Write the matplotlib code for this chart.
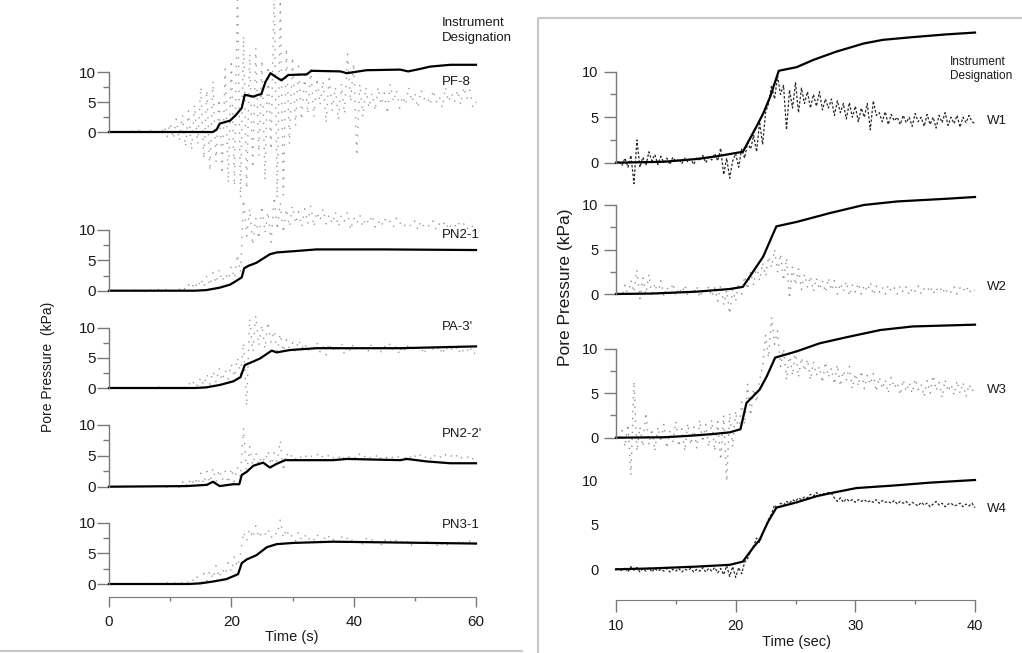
import numpy as np
import matplotlib
matplotlib.use("Agg")
import matplotlib.pyplot as plt
from matplotlib.lines import Line2D

plt.rcParams['font.family'] = ['Liberation Sans', 'DejaVu Sans']

# ---------------- DATA ----------------
# Left figure: time grid of the measured (dotted) records, 0-60 s every 0.5 s
left_time_start, left_time_stop, left_time_step = 0.0, 60.0, 0.5
# Right figure: time grid of the measured (dotted) records, 10-40 s every 0.25 s
right_time_start, right_time_stop, right_time_step = 10.0, 40.0, 0.25

left_names = ["PF-8", "PN2-1", "PA-3'", "PN2-2'", "PN3-1"]
right_names = ["W1", "W2", "W3", "W4"]

# measured records (dotted), left figure
pf8_meas = [0, 0.1, -0.1, 0.1, 0, -0.1, 0.2, -0.1,
            0.2, -0.2, 0.3, -0.3, 0.2, -0.2, 0.4, -0.3,
            0.6, -0.5, 1.0, -0.8, 1.5, -1.2, 2.2, -1.5,
            2.8, -2.5, 3.5, -3.0, 4.5, -2.0, 7.5, -4.5,
            7.0, -6.5, 8.5, -5.0, 5.5, -7.0, 10.5, -8.5,
            12.0, -9.0, 24.0, -11.0, 16.0, -9.5, 13.0, -6.0,
            14.0, -4.0, 12.0, -8.0, 11.0, -3.0, 24.0, -11.0,
            22.0, -10.5, 14.0, -2.0, 12.5, 1.0, 11.0, 2.0,
            9.5, 3.0, 10.5, 2.5, 9.0, 4.5, 8.5, 1.5,
            9.5, 3.5, 7.5, 2.0, 8.0, 3.0, 13.0, 5.0,
            11.5, -4.0, 8.0, 2.5, 7.5, 4.0, 6.5, 3.5,
            7.5, 4.5, 6.5, 3.0, 8.0, 5.0, 7.0, 4.0,
            6.0, 4.5, 7.5, 5.0, 6.5, 4.0, 7.0, 5.5,
            6.0, 4.5, 7.0, 5.0, 6.0, 4.0, 7.5, 5.0,
            6.5, 5.0, 7.0, 4.5, 7.5, 5.5, 7.0, 4.0,
            5.0]
pn21_meas = [0, 0, 0.1, 0, 0, 0.1, 0, 0,
             0.1, 0, 0.1, 0, 0.1, 0, 0.2, 0,
             0.2, 0, 0.3, 0.1, 0.4, 0, 0.5, 0.2,
             0.8, 0.1, 1.0, 0.3, 1.5, 0.4, 2.0, 0.6,
             2.5, 0.8, 3.0, 1.2, 3.5, 1.5, 2.8, 1.8,
             4.0, 2.0, 6.0, 3.0, 15.0, 9.0, 13.5, 7.5,
             12.0, 8.5, 14.0, 9.5, 13.0, 8.0, 15.5, 10.0,
             14.5, 9.5, 13.5, 10.5, 14.0, 11.0, 13.0, 10.5,
             13.5, 11.0, 14.0, 10.5, 13.0, 11.5, 13.5, 11.0,
             12.5, 11.0, 13.0, 10.5, 12.5, 11.5, 13.0, 10.0,
             12.0, 11.0, 12.5, 10.5, 12.0, 11.0, 12.5, 10.5,
             11.5, 10.5, 12.0, 11.0, 11.5, 10.5, 12.0, 11.0,
             11.5, 10.5, 11.0, 10.5, 11.5, 10.0, 11.5, 10.5,
             11.0, 10.5, 11.5, 10.0, 11.0, 10.5, 11.5, 10.0,
             11.0, 10.5, 11.5, 10.5, 11.0, 10.0, 11.0, 10.5,
             10.5]
pa3_meas = [0, 0, 0, 0.1, 0, 0, 0.1, 0,
            0, 0.1, 0, 0, 0.1, 0, 0.1, 0,
            0.2, 0, 0.3, 0, 0.2, -0.1, 0.4, 0,
            0.6, 0, 0.9, 0.2, 1.3, 0.3, 1.8, 0.4,
            2.3, 0.6, 2.8, 0.9, 3.3, 1.2, 3.0, 1.5,
            4.0, 1.8, 5.0, 2.2, 7.5, -3.0, 11.5, 6.0,
            12.0, 7.0, 10.5, 6.5, 11.0, 7.5, 9.5, 6.0,
            9.0, 6.0, 8.0, 6.5, 7.5, 6.0, 8.0, 6.5,
            7.5, 6.0, 7.0, 6.5, 7.5, 6.0, 7.0, 5.5,
            7.5, 6.0, 7.0, 6.5, 7.5, 5.5, 7.0, 6.0,
            7.5, 6.0, 7.0, 6.5, 7.0, 6.0, 7.5, 6.0,
            7.0, 6.0, 7.0, 6.5, 7.5, 6.0, 7.0, 5.5,
            7.0, 6.0, 7.5, 6.0, 7.0, 6.5, 7.0, 5.5,
            7.0, 6.0, 6.5, 6.0, 7.0, 5.5, 7.0, 6.0,
            6.5, 6.0, 7.0, 5.5, 6.5, 6.0, 7.0, 5.5,
            6.0]
pn22_meas = [0, 0, 0, 0, 0, 0.1, 0, 0,
             0, 0, 0.1, 0, 0, 0.1, 0, 0,
             0.1, 0, 0.2, -0.1, 0.3, 0, 0.5, -0.2,
             0.8, -0.1, 1.2, 0.2, 1.5, 0.3, 2.2, 0.4,
             2.5, 0.6, 3.0, 0.8, 2.8, 1.0, 2.5, 0.5,
             3.0, 0.8, 3.2, 1.5, 9.5, 2.0, 6.5, 3.5,
             5.5, 3.5, 5.0, 4.0, 5.8, 3.5, 5.5, 4.0,
             7.5, 2.5, 5.5, 4.5, 5.3, 4.5, 5.2, 4.6,
             5.2, 4.5, 5.0, 4.7, 5.3, 4.5, 5.0, 4.6,
             5.2, 4.5, 5.0, 4.6, 5.3, 4.4, 5.0, 4.6,
             5.0, 4.4, 5.3, 4.6, 5.1, 4.5, 5.0, 4.7,
             5.4, 4.5, 5.0, 4.6, 5.1, 4.5, 5.0, 4.7,
             5.0, 4.6, 5.2, 4.4, 5.0, 4.5, 5.3, 4.6,
             5.0, 4.4, 5.4, 4.6, 5.0, 4.5, 5.2, 4.6,
             5.0, 4.5, 5.3, 4.6, 5.0, 4.6, 5.2, 4.5,
             4.8]
pn31_meas = [0, 0, 0, 0, 0.1, 0, 0, 0,
             0, 0, 0.1, 0, 0, 0, 0.1, 0,
             0, 0.1, 0, 0.2, 0, 0.3, 0, 0.4,
             0.1, 0.6, 0.2, 0.9, 0.3, 1.3, -0.4, 1.7,
             0.5, 2.2, 0.8, 3.0, 1.0, 2.5, 1.5, 3.5,
             2.0, 4.5, 2.8, 5.0, 8.5, 7.0, 9.0, 7.5,
             9.5, 7.5, 8.5, 8.0, 9.0, 7.5, 8.5, 8.0,
             10.5, 7.5, 9.0, 7.5, 8.0, 7.0, 8.5, 7.2,
             8.0, 7.0, 7.8, 7.2, 8.2, 6.8, 7.8, 7.0,
             7.8, 7.0, 7.6, 6.8, 7.8, 7.0, 7.5, 6.8,
             7.5, 6.8, 7.2, 6.5, 7.5, 6.8, 7.2, 6.5,
             7.2, 6.4, 7.4, 6.6, 7.0, 6.5, 7.2, 6.6,
             7.0, 6.5, 7.2, 6.3, 7.0, 6.5, 7.0, 6.2,
             7.0, 6.5, 6.8, 6.0, 7.0, 6.4, 6.8, 6.2,
             6.8, 6.4, 7.0, 6.2, 6.8, 6.5, 7.0, 6.3,
             6.6]

# computed / predicted records (solid), left figure
pf8_pred_t = [0, 17.0, 17.6, 18.1, 19.8, 20.8, 21.7, 22.2, 23.6, 24.4, 24.9, 25.6, 26.4,
              27.1, 28.2, 29.3, 32.3, 33.1, 37.8, 38.9, 42.1, 47.6, 48.9, 50.8, 52.5, 55.8, 60]
pf8_pred_v = [0, 0, 0.4, 1.4, 1.9, 2.9, 4.0, 6.2, 5.9, 6.2, 6.3, 8.4, 9.8,
              9.3, 8.6, 9.5, 9.6, 10.2, 10.1, 9.8, 10.3, 10.4, 10.1, 10.5, 10.9, 11.2, 11.2]
pn21_pred_t = [0, 14.0, 15.9, 18.1, 19.8, 21.1, 21.7, 22.1, 22.8, 24.1, 25.2, 26.3, 27.4, 30.1, 33.9, 45.0, 60]
pn21_pred_v = [0, 0, 0.1, 0.5, 1.0, 1.8, 2.2, 3.7, 4.1, 4.6, 5.3, 6.0, 6.3, 6.5, 6.8, 6.8, 6.7]
pa3_pred_t = [0, 14.0, 15.9, 18.1, 20.3, 21.5, 22.2, 23.6, 24.7, 26.6, 27.4, 29.6, 33.9, 47.6, 60]
pa3_pred_v = [0, 0, 0.1, 0.5, 1.1, 1.8, 3.8, 4.4, 4.9, 6.2, 5.9, 6.3, 6.6, 6.6, 6.9]
pn22_pred_t = [0, 12.7, 16.0, 17.0, 18.1, 20.3, 21.3, 21.7, 22.5, 23.6, 25.2, 26.3, 27.4,
               28.8, 36.6, 38.9, 47.6, 48.7, 51.9, 55.8, 60]
pn22_pred_v = [0, 0.1, 0.3, 0.8, 0.1, 0.4, 0.4, 1.9, 2.4, 3.4, 3.9, 3.1, 3.7,
               4.3, 4.3, 4.5, 4.3, 4.5, 4.1, 3.8, 3.8]
pn31_pred_t = [0, 13.0, 14.9, 17.0, 19.2, 21.1, 21.7, 22.5, 24.1, 25.8, 27.4, 30.1, 36.6, 60]
pn31_pred_v = [0, 0, 0.1, 0.4, 0.8, 1.6, 3.4, 4.0, 4.7, 6.0, 6.5, 6.7, 6.9, 6.6]

# measured records, right figure
w1_meas = [0.0, 0.2, -0.3, 0.5, -0.5, 0.8, -2.3, 2.5,
           -0.5, 0.6, -0.3, 1.2, 0.2, 0.9, -0.2, 0.7,
           0.0, 0.5, -0.2, 0.6, 0.1, 0.4, -0.1, 0.5,
           0.1, 0.4, -0.2, 0.6, 0.2, 0.8, 0.0, 0.6,
           0.3, 1.0, 0.2, 1.6, -1.3, 0.5, -1.7, 0.2,
           1.0, -0.5, 1.5, 0.5, 2.2, 1.5, 3.0, 1.2,
           4.5, 2.0, 5.5, 6.5, 8.5, 7.0, 9.5, 7.5,
           8.5, 3.6, 8.0, 6.0, 8.8, 5.5, 8.2, 6.5,
           7.8, 6.0, 7.5, 6.2, 7.8, 5.8, 7.0, 6.0,
           7.0, 5.2, 6.8, 5.5, 6.5, 4.8, 6.6, 5.0,
           6.2, 4.5, 6.0, 5.0, 6.5, 3.6, 6.8, 5.2,
           5.5, 4.5, 5.6, 4.2, 5.3, 4.6, 5.0, 4.2,
           5.2, 4.4, 5.0, 4.0, 5.4, 4.5, 5.0, 4.0,
           5.3, 4.2, 5.0, 3.8, 5.2, 4.4, 5.5, 4.1,
           5.0, 4.3, 5.2, 3.9, 5.0, 4.4, 5.2, 4.5,
           4.3]
w2_meas = [0.0, 0.3, -0.3, 1.0, -0.2, 1.5, 0.2, 2.7,
           -0.5, 1.8, 0.0, 2.2, -0.3, 1.2, 0.0, 1.5,
           -0.3, 0.8, 0.0, 1.2, -0.2, 0.7, 0.1, 1.0,
           -0.3, 0.6, 0.0, 0.9, -0.4, 0.5, 0.2, 0.8,
           -0.3, 0.7, -0.8, 1.0, -1.2, 0.4, -2.2, 0.5,
           -0.8, 1.2, 0.0, 2.0, 0.5, 2.5, 1.0, 3.2,
           1.5, 3.5, 2.0, 4.2, 3.0, 5.0, 2.5, 4.5,
           1.5, 4.0, -0.5, 3.0, 1.0, 2.8, 0.5, 2.2,
           0.8, 2.0, 0.3, 1.8, 0.5, 1.5, 0.2, 1.8,
           0.4, 1.5, 0.0, 1.2, 0.3, 1.4, -0.2, 1.0,
           0.2, 1.2, 0.0, 1.0, 0.3, 1.3, -0.1, 0.9,
           0.2, 0.8, 0.0, 1.0, 0.3, 0.7, 0.0, 0.9,
           0.2, 0.8, -0.1, 0.7, 0.3, 0.9, 0.0, 0.6,
           0.3, 0.9, 0.0, 0.7, 0.2, 0.8, 0.0, 0.6,
           0.2, 0.8, 0.0, 0.7, 0.3, 0.9, 0.1, 0.6,
           0.4]
w3_meas = [0.0, -0.3, 0.8, -1.0, 1.5, -4.2, 6.3, -1.5,
           1.2, -1.0, 2.8, -0.8, 1.0, -1.5, 1.2, -0.5,
           1.5, -1.2, 0.8, -0.5, 1.8, -1.0, 1.0, -1.5,
           1.6, -0.8, 1.2, -1.2, 2.0, -0.5, 1.5, -1.0,
           2.0, -1.5, 1.8, -2.5, 2.5, -4.9, 2.8, -1.0,
           3.0, 0.5, 4.0, 1.5, 6.0, 2.5, 5.5, 4.0,
           6.5, 8.0, 11.5, 9.0, 13.5, 10.5, 12.0, 8.0,
           10.0, 6.5, 9.5, 7.0, 9.8, 6.8, 9.0, 7.5,
           8.8, 6.5, 8.5, 7.0, 8.0, 6.2, 8.5, 6.8,
           7.8, 6.0, 8.2, 5.8, 7.5, 6.5, 8.0, 5.5,
           7.2, 5.8, 7.5, 5.5, 7.0, 6.0, 7.2, 5.2,
           6.8, 5.5, 6.5, 5.0, 6.8, 5.6, 6.2, 4.8,
           6.5, 5.2, 6.2, 5.0, 6.6, 5.4, 6.0, 4.6,
           6.4, 5.0, 7.0, 5.3, 6.2, 4.5, 6.5, 5.2,
           6.0, 4.8, 6.4, 5.0, 6.2, 4.6, 6.0, 5.2,
           5.6]
w4_meas = [0.0, 0.1, -0.2, 0.2, -0.3, 0.3, -0.1, 0.2,
           -0.3, 0.1, -0.2, 0.2, -0.3, 0.1, -0.2, 0.0,
           -0.2, 0.1, -0.3, 0.0, -0.2, 0.1, -0.3, 0.0,
           -0.1, 0.1, -0.3, 0.0, -0.2, 0.2, -0.3, 0.1,
           -0.2, 0.2, -0.4, 0.1, -0.6, 0.4, -0.8, 0.3,
           -0.9, 0.2, -0.5, 0.8, 1.2, 2.0, 2.6, 3.5,
           3.0, 4.0, 4.8, 5.6, 6.2, 7.2, 6.8, 7.4,
           7.2, 7.6, 7.4, 7.8, 7.6, 8.0, 7.8, 8.1,
           8.0, 8.4, 8.2, 8.6, 8.3, 8.5, 8.4, 8.6,
           8.5, 8.0, 7.6, 8.0, 7.5, 7.9, 7.6, 7.8,
           7.5, 7.8, 7.6, 7.8, 7.5, 7.7, 7.5, 7.8,
           7.4, 7.7, 7.5, 7.6, 7.4, 7.7, 7.3, 7.6,
           7.4, 7.6, 7.2, 7.5, 7.3, 7.1, 7.5, 7.2,
           7.4, 7.0, 7.3, 7.6, 7.2, 7.4, 7.0, 7.3,
           7.4, 7.1, 7.2, 7.4, 7.0, 7.3, 7.1, 7.4,
           6.9]

# predicted records (solid), right figure
w1_pred_t = [10, 13.95, 16.7, 18.4, 20.6, 21.75, 22.3, 22.9, 23.6, 25.1, 26.5, 28.4, 30.7, 32.3, 34.8, 37.6, 40]
w1_pred_v = [0, 0.1, 0.4, 0.7, 1.2, 4.0, 5.4, 7.3, 10.1, 10.5, 11.3, 12.2, 13.1, 13.5, 13.8, 14.1, 14.3]
w2_pred_t = [10, 13.0, 16.7, 19.5, 20.6, 21.75, 22.3, 23.4, 25.1, 27.9, 30.7, 33.5, 37.6, 40]
w2_pred_v = [0, 0.05, 0.26, 0.56, 0.8, 3.1, 4.2, 7.6, 8.1, 9.1, 10.0, 10.4, 10.7, 10.9]
w3_pred_t = [10, 14.0, 16.0, 18.0, 19.5, 20.4, 20.9, 22.0, 22.6, 23.3, 25.1, 27.0, 29.3, 32.1, 34.8, 40]
w3_pred_v = [0, 0.05, 0.2, 0.4, 0.6, 0.95, 3.9, 5.4, 6.9, 9.0, 9.7, 10.6, 11.3, 12.1, 12.5, 12.7]
w4_pred_t = [10, 13.0, 16.7, 19.5, 20.6, 21.5, 22.0, 22.7, 23.4, 25.1, 26.8, 28.2, 30.1, 33.4, 36.2, 40]
w4_pred_v = [0, 0.1, 0.3, 0.5, 0.86, 2.5, 3.3, 5.3, 6.9, 7.5, 8.2, 8.6, 9.1, 9.4, 9.7, 10.0]

left_meas = [pf8_meas, pn21_meas, pa3_meas, pn22_meas, pn31_meas]
left_pred = [(pf8_pred_t, pf8_pred_v), (pn21_pred_t, pn21_pred_v), (pa3_pred_t, pa3_pred_v),
             (pn22_pred_t, pn22_pred_v), (pn31_pred_t, pn31_pred_v)]
right_meas = [w1_meas, w2_meas, w3_meas, w4_meas]
right_pred = [(w1_pred_t, w1_pred_v), (w2_pred_t, w2_pred_v), (w3_pred_t, w3_pred_v), (w4_pred_t, w4_pred_v)]

# ---------------- LAYOUT (pixels) ----------------
W, H = 1022, 653
fig = plt.figure(figsize=(W / 100, H / 100), dpi=100)

SPINE = '#7a7a7a'
TXT = '#1a1a1a'


def add_panel(xlim, xpx, ypx0, ypx10, ylim, fs, pad, spine=True):
    ppu = (ypx0 - ypx10) / 10.0
    top = ypx0 - ylim[1] * ppu
    bot = ypx0 - ylim[0] * ppu
    ax = fig.add_axes([xpx[0] / W, 1 - bot / H, (xpx[1] - xpx[0]) / W, (bot - top) / H])
    ax.set_xlim(*xlim)
    ax.set_ylim(*ylim)
    ax.patch.set_visible(False)
    for s in ['top', 'right', 'bottom']:
        ax.spines[s].set_visible(False)
    ax.set_xticks([])
    ax.set_yticks([0, 5, 10])
    ax.set_yticks([2.5, 7.5], minor=True)
    ax.set_yticklabels(['0', '5', '10'])
    if spine:
        ax.spines['left'].set_bounds(0, 10)
        ax.spines['left'].set_color(SPINE)
        ax.spines['left'].set_linewidth(1.0)
        ax.tick_params(axis='y', which='major', length=8.6, width=1.0, color=SPINE,
                       labelsize=fs, labelcolor=TXT, pad=pad)
        ax.tick_params(axis='y', which='minor', length=4.3, width=1.0, color=SPINE)
    else:
        ax.spines['left'].set_visible(False)
        ax.tick_params(axis='y', which='major', length=0, labelsize=fs, labelcolor=TXT, pad=pad + 8.6)
        ax.tick_params(axis='y', which='minor', length=0)
    return ax


# Left figure
left_t = np.arange(left_time_start, left_time_stop + left_time_step / 2, left_time_step)
left_rows = [(132, 72), (290.7, 230), (388, 327.7), (486.7, 425), (584, 522.7)]
left_ylims = [(-11.5, 23), (-1, 16.5), (-4, 13), (-1, 10.5), (-1, 11)]
left_label_y = [82, 235, 327, 434, 525]
for i in range(5):
    ax = add_panel((0, 60), (109, 476), left_rows[i][0], left_rows[i][1], left_ylims[i], 11, 1.0)
    ax.plot(left_t, left_meas[i], color='#9a9a9a', lw=1.0, ls=(0, (1, 5)), clip_on=False)
    ax.plot(left_pred[i][0], left_pred[i][1], color='black', lw=1.6, clip_on=False)
    fig.text(442 / W, 1 - left_label_y[i] / H, left_names[i], fontsize=9.5, color=TXT,
             ha='left', va='center')

fig.text(442 / W, 1 - 23 / H, 'Instrument', fontsize=9.5, color=TXT, ha='left', va='center')
fig.text(442 / W, 1 - 38 / H, 'Designation', fontsize=9.5, color=TXT, ha='left', va='center')

# left x axis
axx = fig.add_axes([109 / W, 1 - 597 / H, 367 / W, 2 / H])
axx.patch.set_visible(False)
for s in ['top', 'right', 'left']:
    axx.spines[s].set_visible(False)
axx.spines['bottom'].set_color(SPINE)
axx.set_xlim(0, 60)
axx.set_yticks([])
axx.set_xticks([0, 20, 40, 60])
axx.set_xticks([10, 30, 50], minor=True)
axx.tick_params(axis='x', which='major', length=7, width=1.0, color=SPINE, labelsize=11,
                labelcolor=TXT, pad=6)
axx.tick_params(axis='x', which='minor', length=3, width=1.0, color=SPINE)
fig.text(292 / W, 1 - 637 / H, 'Time (s)', fontsize=10.5, color=TXT, ha='center', va='center')
fig.text(48 / W, 1 - 367 / H, 'Pore Pressure  (kPa)', fontsize=10, color=TXT, ha='center',
         va='center', rotation=90)

# Right figure
right_t = np.arange(right_time_start, right_time_stop + right_time_step / 2, right_time_step)
right_rows = [(162.7, 71.7), (294, 205), (437.7, 348.7), (569.3, 480)]
right_ylims = [(-3, 15), (-3, 12), (-6, 14), (-2, 11)]
right_styles = [dict(color='#2a2a2a', lw=0.9, ls=(0, (2, 1.5))),
                dict(color='#8f8f8f', lw=1.0, ls=(0, (1, 4))),
                dict(color='#8f8f8f', lw=1.0, ls=(0, (1, 4))),
                dict(color='#2a2a2a', lw=0.9, ls=(0, (2, 1.5)))]
right_label_y = [121, 287, 390, 509]
for i in range(4):
    ax = add_panel((10, 40), (616, 975), right_rows[i][0], right_rows[i][1], right_ylims[i], 10.5, 4.0,
                   spine=(i < 3))
    ax.plot(right_t, right_meas[i], clip_on=False, **right_styles[i])
    ax.plot(right_pred[i][0], right_pred[i][1], color='black', lw=1.6, clip_on=False)
    fig.text(987 / W, 1 - right_label_y[i] / H, right_names[i], fontsize=9.5, color=TXT,
             ha='left', va='center')

fig.text(950 / W, 1 - 62 / H, 'Instrument', fontsize=8.5, color=TXT, ha='left', va='center')
fig.text(950 / W, 1 - 76 / H, 'Designation', fontsize=8.5, color=TXT, ha='left', va='center')

axr = fig.add_axes([616 / W, 1 - 600 / H, 359 / W, 2 / H])
axr.patch.set_visible(False)
for s in ['top', 'right', 'left']:
    axr.spines[s].set_visible(False)
axr.spines['bottom'].set_color(SPINE)
axr.set_xlim(10, 40)
axr.set_yticks([])
axr.set_xticks([10, 20, 30, 40])
axr.set_xticks([15, 25, 35], minor=True)
axr.tick_params(axis='x', which='major', length=8.6, width=1.0, color=SPINE, labelsize=10.5,
                labelcolor=TXT, pad=5)
axr.tick_params(axis='x', which='minor', length=3, width=1.0, color=SPINE)
fig.text(796 / W, 1 - 642 / H, 'Time (sec)', fontsize=10.5, color=TXT, ha='center', va='center')
fig.text(565 / W, 1 - 287 / H, 'Pore Pressure (kPa)', fontsize=12.5, color=TXT, ha='center',
         va='center', rotation=90)

# scan frames
FRAME = '#c8c8c8'
fig.add_artist(Line2D([538 / W, 538 / W, 1.0], [0.0, 1 - 18 / H, 1 - 18 / H],
                      transform=fig.transFigure, color=FRAME, lw=1.5))
fig.add_artist(Line2D([0.0, 522 / W], [1 - 651 / H, 1 - 651 / H],
                      transform=fig.transFigure, color=FRAME, lw=1.5))

fig.savefig('out.png', dpi=100)
